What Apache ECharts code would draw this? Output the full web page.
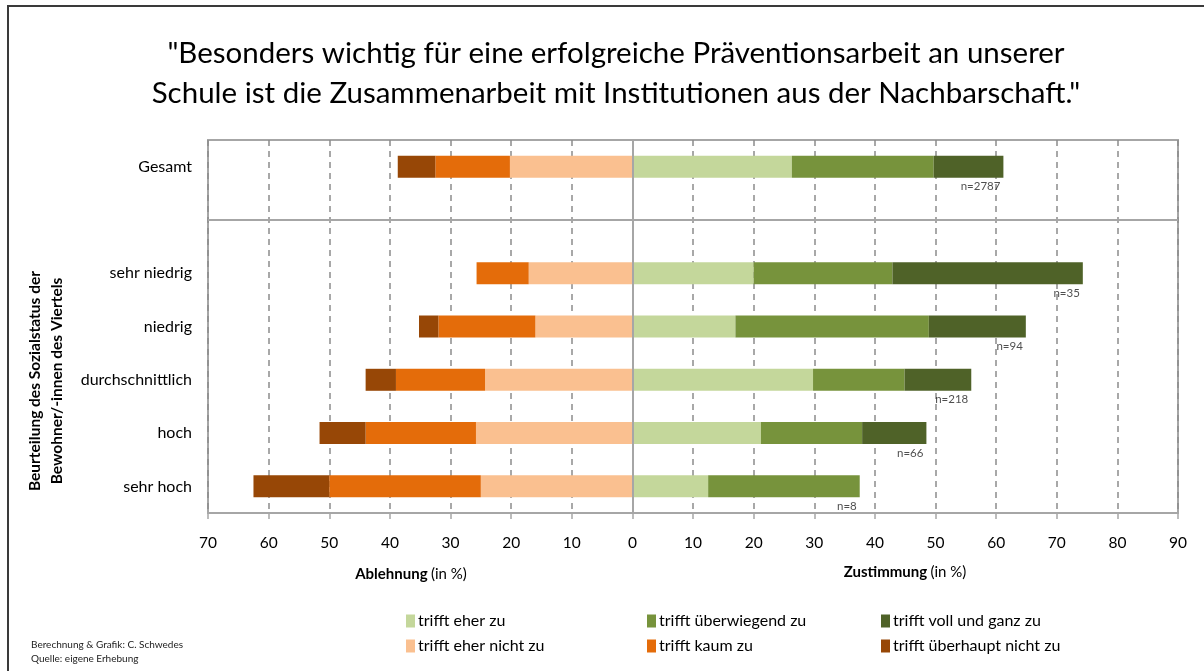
<!DOCTYPE html>
<html>
<head>
<meta charset="utf-8">
<script src="https://cdn.jsdelivr.net/npm/echarts@6/dist/echarts.min.js"></script>
<style>
  html, body { margin: 0; padding: 0; background: #fff; }
  #frame { position: absolute; left: 7px; top: 5px; width: 1204px; height: 680px;
           border-left: 2px solid #3a3a3a; border-top: 2px solid #3a3a3a; }
  #chart { position: absolute; left: 0; top: 0; width: 1204px; height: 671px; }
</style>
</head>
<body>
<div id="frame"></div>
<div id="chart"></div>
<script>
// Groups on the y axis (blank entry separates the total from the subgroups)
const categories = ['Gesamt', '', 'sehr niedrig', 'niedrig', 'durchschnittlich', 'hoch', 'sehr hoch'];

// Shares in percent – agreement side
const eherZu       = [26.3, null, 20.0, 17.0, 29.8, 21.2, 12.5];
const ueberwiegend = [23.4, null, 22.9, 31.9, 15.1, 16.7, 25.0];
const vollGanz     = [11.5, null, 31.4, 16.0, 11.0, 10.6, 0];

// Shares in percent – rejection side
const eherNicht    = [20.2, null, 17.1, 16.0, 24.3, 25.8, 25.0];
const kaum         = [12.3, null, 8.6, 16.0, 14.7, 18.2, 25.0];
const ueberhaupt   = [6.2, null, 0, 3.2, 5.0, 7.6, 12.5];

// Sample sizes shown under each bar
const nLabels = ['n=2787', '', 'n=35', 'n=94', 'n=218', 'n=66', 'n=8'];

// Axis ticks
const axisMin = -70, axisMax = 90, axisStep = 10;

const names = {
  eherZu: 'trifft eher zu',
  ueberwiegend: 'trifft überwiegend zu',
  vollGanz: 'trifft voll und ganz zu',
  eherNicht: 'trifft eher nicht zu',
  kaum: 'trifft kaum zu',
  ueberhaupt: 'trifft überhaupt nicht zu'
};
const colors = {
  eherZu: '#c4d79b', ueberwiegend: '#77933c', vollGanz: '#4f6228',
  eherNicht: '#fac090', kaum: '#e46c0a', ueberhaupt: '#974706'
};

const FONT = 'Lato';
const neg = arr => arr.map(v => v == null ? null : -v);
const posTotals = categories.map((c, i) =>
  eherZu[i] == null ? null : eherZu[i] + ueberwiegend[i] + vollGanz[i]);

function barSeries(key, data) {
  return {
    type: 'bar', name: names[key], stack: 'all', barWidth: 22,
    data: data, itemStyle: { color: colors[key] },
    emphasis: { disabled: true }, animation: false
  };
}

const legendSlots = [
  ['eherZu', 406, 613], ['ueberwiegend', 647, 613], ['vollGanz', 881, 613],
  ['eherNicht', 406, 638], ['kaum', 647, 638], ['ueberhaupt', 881, 638]
];

const chart = echarts.init(document.getElementById('chart'), null, { renderer: 'canvas' });

const axisNameRich = {
  b: { fontFamily: FONT, fontSize: 15, fontWeight: 'bold', fill: '#000' },
  n: { fontFamily: FONT, fontSize: 15, fill: '#000' }
};

const option = {
  backgroundColor: 'transparent',
  animation: false,
  textStyle: { fontFamily: FONT },
  title: {
    text: '"Besonders wichtig für eine erfolgreiche Präventionsarbeit an unserer\nSchule ist die Zusammenarbeit mit Institutionen aus der Nachbarschaft."',
    left: 611, top: 28, textAlign: 'center',
    textStyle: { fontFamily: FONT, fontSize: 29.5, fontWeight: 'normal', color: '#000', lineHeight: 40 }
  },
  legend: legendSlots.map(([key, x, y]) => ({
    data: [names[key]], left: x, top: y, padding: 0, itemWidth: 9, itemHeight: 13, itemGap: 4,
    icon: 'rect', selectedMode: false,
    textStyle: { fontFamily: FONT, fontSize: 16, color: '#000', padding: [0, 0, 0, -2] }
  })),
  grid: {
    left: 208, right: 26, top: 140, bottom: 158,
    show: true, borderColor: '#a6a6a6', borderWidth: 2, containLabel: false
  },
  xAxis: {
    type: 'value', min: axisMin, max: axisMax, interval: axisStep,
    axisLine: { show: true, lineStyle: { color: '#a6a6a6', width: 2 } },
    axisTick: { show: true, length: 6, lineStyle: { color: '#a6a6a6', width: 1.5 } },
    axisLabel: { formatter: v => Math.abs(v), fontFamily: FONT, fontSize: 15.5, color: '#000', margin: 22 },
    splitLine: { show: true, lineStyle: { color: '#8c8c8c', type: [6, 5], width: 1.5 } }
  },
  yAxis: {
    type: 'category', data: categories, inverse: true,
    axisLine: { show: true, lineStyle: { color: '#a6a6a6', width: 2 } },
    axisTick: { show: false },
    axisLabel: { fontFamily: FONT, fontSize: 16, color: '#000', margin: 16 }
  },
  series: [
    barSeries('eherZu', eherZu),
    barSeries('ueberwiegend', ueberwiegend),
    barSeries('vollGanz', vollGanz),
    barSeries('eherNicht', neg(eherNicht)),
    barSeries('kaum', neg(kaum)),
    barSeries('ueberhaupt', neg(ueberhaupt)),
    {
      // sample-size labels under the right end of each bar, plus zero line and group separator
      type: 'scatter', symbolSize: 0, silent: true, animation: false,
      data: categories.map((c, i) => posTotals[i] == null ? null : [posTotals[i], c, nLabels[i]]),
      label: {
        show: true, position: 'inside', align: 'right', verticalAlign: 'middle',
        offset: [-3, 20], formatter: p => p.value[2],
        fontFamily: FONT, fontSize: 11.5, color: '#222'
      },
      markLine: {
        silent: true, symbol: 'none', animation: false, label: { show: false },
        lineStyle: { color: '#a6a6a6', width: 2, type: 'solid' },
        data: [{ xAxis: 0 }, { yAxis: '' }]
      }
    }
  ],
  graphic: [
    {
      type: 'text', x: 46, y: 381, rotation: Math.PI / 2, silent: true,
      style: {
        x: 0, y: 0,
        text: 'Beurteilung des Sozialstatus der\nBewohner/-innen des Viertels',
        fontFamily: FONT, fontSize: 15.5, fontWeight: 'bold', fill: '#000',
        align: 'center', verticalAlign: 'middle', lineHeight: 22
      }
    },
    {
      type: 'text', silent: true, style: {
        x: 411, y: 574, align: 'center', verticalAlign: 'middle',
        text: '{b|Ablehnung} {n|(in %)}', rich: axisNameRich
      }
    },
    {
      type: 'text', silent: true, style: {
        x: 905, y: 572, align: 'center', verticalAlign: 'middle',
        text: '{b|Zustimmung} {n|(in %)}', rich: axisNameRich
      }
    },
    {
      type: 'text', left: 31, top: 638, silent: true,
      style: { text: 'Berechnung & Grafik: C. Schwedes\nQuelle: eigene Erhebung',
               fontFamily: FONT, fontSize: 10, fill: '#222', lineHeight: 14 }
    }
  ]
};

chart.setOption(option);
</script>
</body>
</html>
